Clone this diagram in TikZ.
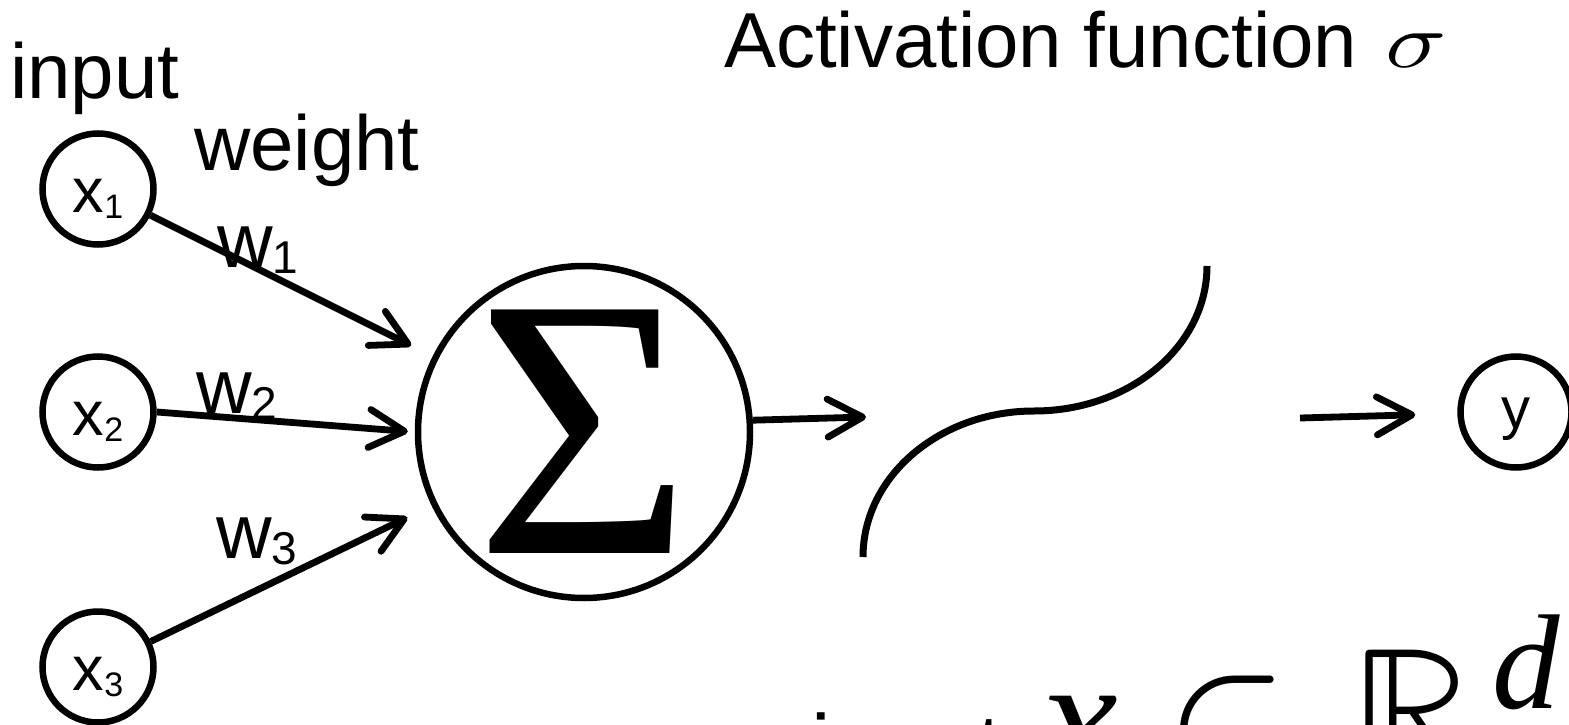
\documentclass[tikz,border=0pt]{standalone}
\usepackage{graphicx}
\usepackage{fontspec}
\usepackage{unicode-math}
\setmainfont{Liberation Sans}
\newfontfamily\rmserif{Liberation Serif}
\usetikzlibrary{arrows.meta}

\newcommand{\fsz}[1]{\fontsize{#1}{#1}\selectfont}
\newcommand{\subl}[3]{#1{\fsz{#3}\raisebox{-6pt}{#2}}}

\begin{document}
\begin{tikzpicture}[x=1pt, y=-1pt,
    unit/.style={circle, draw=black, line width=6.5pt, inner sep=0pt, minimum size=111pt, text depth=0pt},
    lbl/.style={anchor=base west, inner sep=0pt},
    arr/.style={line width=6.8pt, -{Straight Barb[length=35pt, width=38pt, line cap=round, line join=round]}}
]
\useasboundingbox (0,0) rectangle (1569,725);
\clip (0,0) rectangle (1569,725);

\node[unit, font=\fsz{63}, text height=46pt] (x1) at (98,189) {\subl{x}{1}{34}};
\node[unit, font=\fsz{63}, text height=46pt] (x2) at (98,412) {\subl{x}{2}{34}};
\node[unit, font=\fsz{63}, text height=46pt] (x3) at (98,667) {\subl{x}{3}{34}};
\node[circle, draw=black, line width=6.5pt, inner sep=0pt, minimum size=332pt, font=\rmserif\fsz{372}] (sum) at (584,432) {Σ};
\node[unit, font=\fsz{58}, text height=32pt] (y) at (1516,412) {y};

\node[lbl, font=\fsz{78}] (input) at (10,98) {input};
\node[lbl, font=\fsz{78}] (weight) at (194,170) {weight};
\node[lbl, font=\fsz{78}] (act) at (724,67) {Activation function\hspace{28pt}{\fsz{78}\scalebox{1.3}[1]{$\sigma$}}};
\node[lbl, font=\fsz{77}] (w1) at (217,267) {\subl{w}{1}{46}};
\node[lbl, font=\fsz{77}] (w2) at (196,413) {\subl{w}{2}{46}};
\node[lbl, font=\fsz{77}] (w3) at (216,558) {\subl{w}{3}{46}};
\node[lbl] (formula) at (811,776) {{\fsz{88}input}\hspace{38pt}{\rmserif\itshape\fsz{175}x}\hspace{48pt}\fsz{185}$\in\mkern1mu\mathbb{R}^{\mbox{\hspace{24pt}\rmserif\itshape\fsz{135}d}}$};

\draw[line width=7pt] (863,557) .. controls (863,476) and (940,411) .. (1034,411)
    .. controls (1130,411) and (1207,346) .. (1207,266);
\coordinate (sigin) at (866,417);
\coordinate (sigout) at (1300,418);

\draw[arr, shorten >=24pt] (x1) -- (sum);
\draw[arr, shorten >=7pt] (x2.east) -- (sum.west);
\draw[arr, shorten >=27pt] (x3) -- (sum);
\draw[arr] (sum.4) -- (sigin);
\draw[arr, shorten >=42pt] (sigout) -- (y);
\end{tikzpicture}
\end{document}
